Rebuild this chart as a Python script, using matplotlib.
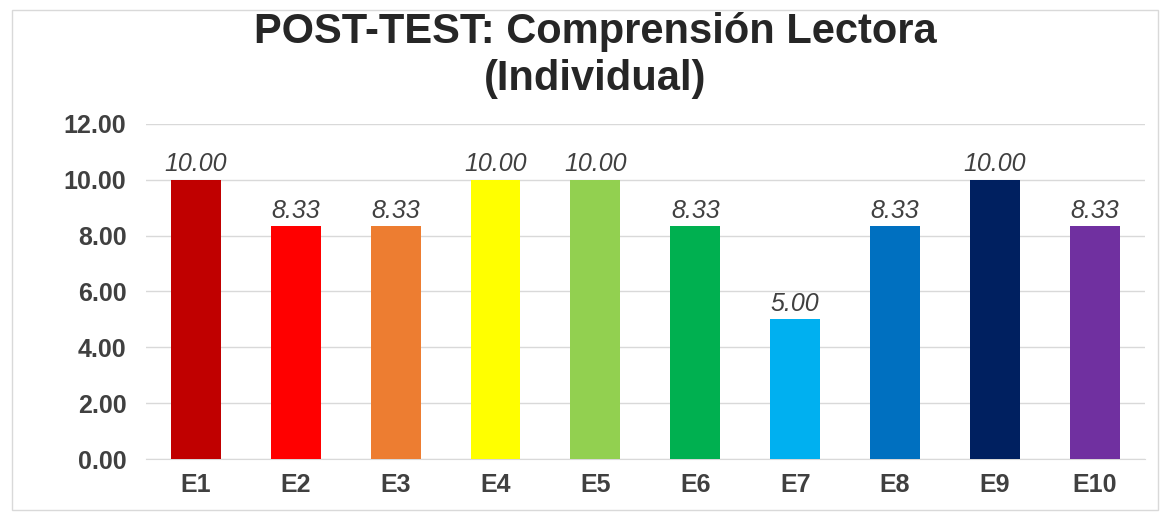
import matplotlib.pyplot as plt
from matplotlib.patches import Rectangle

students = ['E1', 'E2', 'E3', 'E4', 'E5', 'E6', 'E7', 'E8', 'E9', 'E10']
scores = [10.00, 8.33, 8.33, 10.00, 10.00, 8.33, 5.00, 8.33, 10.00, 8.33]
colors = ['#C00000', '#FF0000', '#ED7D31', '#FFFF00', '#92D050',
          '#00B050', '#00B0F0', '#0070C0', '#002060', '#7030A0']
yticks = [0, 2, 4, 6, 8, 10, 12]

plt.rcParams['font.family'] = ['Liberation Sans', 'DejaVu Sans']

fig = plt.figure(figsize=(11.67, 5.19), dpi=100)
ax = fig.add_axes([0.125, 0.1156, 0.856, 0.6455])

# light frame around the whole chart
fig.patches.append(Rectangle((0.010, 0.018), 0.982, 0.963, transform=fig.transFigure,
                             fill=False, edgecolor='#D9D9D9', linewidth=1))

x = range(len(students))
bars = ax.bar(x, scores, width=0.5, color=colors, zorder=3)

for b, v in zip(bars, scores):
    ax.text(b.get_x() + b.get_width() / 2, v + 0.12, f'{v:.2f}', ha='center', va='bottom',
            fontsize=18, style='italic', color='#404040')

ax.set_ylim(0, 12)
ax.set_xlim(-0.5, len(students) - 0.5)
ax.set_yticks(yticks)
ax.set_yticklabels([f'{t:.2f}' for t in yticks], fontsize=18, fontweight='bold', color='#404040')
ax.set_xticks(list(x))
ax.set_xticklabels(students, fontsize=18, fontweight='bold', color='#404040')
ax.tick_params(axis='x', length=0, pad=10)
ax.tick_params(axis='y', length=0, pad=14)
ax.grid(axis='y', color='#D9D9D9', linewidth=1, zorder=0)
for s in ['top', 'right', 'left']:
    ax.spines[s].set_visible(False)
ax.spines['bottom'].set_color('#D9D9D9')

fig.text(0.51, 0.917, 'POST-TEST: Comprensión Lectora', ha='center', va='baseline',
         fontsize=30, fontweight='bold', color='#262626')
fig.text(0.51, 0.826, '(Individual)', ha='center', va='baseline',
         fontsize=30, fontweight='bold', color='#262626')

fig.savefig('out.png', dpi=100)
